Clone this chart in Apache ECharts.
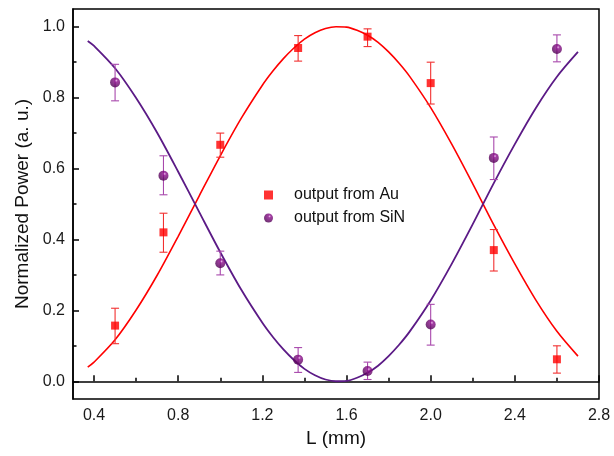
<!DOCTYPE html>
<html>
<head>
<meta charset="utf-8">
<script src="https://cdn.jsdelivr.net/npm/echarts@6/dist/echarts.min.js"></script>
<style>
html,body{margin:0;padding:0;background:#fff;}
#chart{width:614px;height:456px;}
</style>
</head>
<body>
<div id="chart"></div>
<script>
// ---- data ----
const xPts    = [0.5, 0.73, 1.0, 1.37, 1.7, 2.0, 2.3, 2.6];
const auVals  = [0.157, 0.420, 0.667, 0.940, 0.972, 0.841, 0.370, 0.062];
const auLow   = [0.106, 0.364, 0.632, 0.903, 0.944, 0.782, 0.311, 0.023];
const auHigh  = [0.206, 0.474, 0.700, 0.975, 0.994, 0.900, 0.428, 0.100];
const sinVals = [0.843, 0.580, 0.333, 0.061, 0.029, 0.160, 0.630, 0.937];
const sinLow  = [0.791, 0.526, 0.300, 0.025, 0.005, 0.102, 0.569, 0.901];
const sinHigh = [0.894, 0.636, 0.367, 0.095, 0.054, 0.217, 0.689, 0.977];

// fitted curves
const fitL   = [0.37, 0.4, 0.5, 0.6, 0.7, 0.8, 0.9, 1.0, 1.1, 1.2, 1.25, 1.3, 1.35, 1.4, 1.45, 1.5, 1.55, 1.6, 1.65, 1.7, 1.75, 1.8, 1.85, 1.9, 2.0, 2.1, 2.2, 2.3, 2.4, 2.5, 2.6, 2.7];
const auFit  = [0.040, 0.054, 0.117, 0.201, 0.299, 0.409, 0.523, 0.636, 0.742, 0.835, 0.875, 0.910, 0.940, 0.965, 0.983, 0.995, 1.000, 0.999, 0.990, 0.976, 0.956, 0.929, 0.897, 0.860, 0.772, 0.669, 0.557, 0.441, 0.331, 0.229, 0.141, 0.071];
const sinFit = [0.960, 0.946, 0.883, 0.799, 0.701, 0.591, 0.477, 0.364, 0.258, 0.165, 0.125, 0.090, 0.060, 0.035, 0.017, 0.005, 0.000, 0.001, 0.010, 0.024, 0.044, 0.071, 0.103, 0.140, 0.228, 0.331, 0.443, 0.559, 0.669, 0.771, 0.859, 0.929];

const xMajor = [0.4, 0.8, 1.2, 1.6, 2.0, 2.4, 2.8];
const xMinor = [0.6, 1.0, 1.4, 1.8, 2.2, 2.6];
const yMajor = [0.0, 0.2, 0.4, 0.6, 0.8, 1.0];
const yMinor = [0.1, 0.3, 0.5, 0.7, 0.9];

const seriesNames = ['output from Au', 'output from SiN'];
const xTitle = 'L (mm)';
const yTitle = 'Normalized Power (a. u.)';

const FONT = 'Liberation Sans, Arial, Helvetica, sans-serif';
const RED = '#ff0000';
const PURPLE_LINE = '#5b1a86';

function errSeries(lo, hi, color) {
  return {
    type: 'custom',
    silent: true,
    z: 3,
    data: xPts.map((x, i) => [x, lo[i], hi[i]]),
    encode: { x: 0, y: [1, 2] },
    renderItem: function (params, api) {
      const x = api.value(0);
      const p1 = api.coord([x, api.value(1)]);
      const p2 = api.coord([x, api.value(2)]);
      const w = 4;
      const st = { stroke: color, lineWidth: 1.1 };
      return {
        type: 'group',
        children: [
          { type: 'line', shape: { x1: p1[0], y1: p1[1], x2: p2[0], y2: p2[1] }, style: st },
          { type: 'line', shape: { x1: p1[0] - w, y1: p1[1], x2: p1[0] + w, y2: p1[1] }, style: st },
          { type: 'line', shape: { x1: p2[0] - w, y1: p2[1], x2: p2[0] + w, y2: p2[1] }, style: st }
        ]
      };
    }
  };
}

const sphere = {
  type: 'radial', x: 0.62, y: 0.32, r: 0.7,
  colorStops: [
    { offset: 0, color: '#e6a6e6' },
    { offset: 0.22, color: '#8c0e8c' },
    { offset: 1, color: '#4c0050' }
  ]
};

const axisLineStyle = { color: '#000', width: 1.5 };

const option = {
  animation: false,
  backgroundColor: '#fff',
  grid: {
    left: 73, right: 15, top: 9, bottom: 57,
    show: true, borderColor: '#000', borderWidth: 1.5,
    backgroundColor: 'transparent',
    containLabel: false, outerBoundsMode: 'none'
  },
  legend: {
    orient: 'vertical',
    left: 259, top: 182,
    itemWidth: 9, itemHeight: 9, itemGap: 7,
    data: [
      { name: seriesNames[0], icon: 'rect' },
      { name: seriesNames[1], icon: 'circle' }
    ],
    textStyle: { fontFamily: FONT, fontSize: 16, color: '#111', lineHeight: 16, padding: [0, 0, 0, 16] }
  },
  xAxis: [
    {
      type: 'value', min: 0.3, max: 2.8,
      name: xTitle, nameLocation: 'middle', nameGap: 28,
      nameTextStyle: { fontFamily: FONT, fontSize: 19, color: '#111' },
      axisLine: { show: true, lineStyle: axisLineStyle },
      axisTick: { show: true, inside: true, length: 6, customValues: xMajor, lineStyle: { color: '#000', width: 1.5 } },
      axisLabel: { show: true, customValues: xMajor, margin: 9, fontFamily: FONT, fontSize: 16, color: '#1a1a1a',
        formatter: v => v.toFixed(1) },
      splitLine: { show: false }
    },
    {
      type: 'value', min: 0.3, max: 2.8, position: 'bottom',
      axisLine: { show: false },
      axisTick: { show: true, inside: true, length: 3.5, customValues: xMinor, lineStyle: { color: '#000', width: 1.5 } },
      axisLabel: { show: false },
      splitLine: { show: false }
    }
  ],
  yAxis: [
    {
      type: 'value', min: -0.05, max: 1.05,
      name: yTitle, nameLocation: 'middle', nameGap: 41,
      nameTextStyle: { fontFamily: FONT, fontSize: 19, color: '#111' },
      axisLine: { show: true, lineStyle: axisLineStyle },
      axisTick: { show: true, inside: true, length: 6, customValues: yMajor, lineStyle: { color: '#000', width: 1.5 } },
      axisLabel: { show: true, customValues: yMajor, margin: 8, fontFamily: FONT, fontSize: 16, color: '#1a1a1a',
        formatter: v => v.toFixed(1) },
      splitLine: { show: false }
    },
    {
      type: 'value', min: -0.05, max: 1.05, position: 'left',
      axisLine: { show: false },
      axisTick: { show: true, inside: true, length: 3.5, customValues: yMinor, lineStyle: { color: '#000', width: 1.5 } },
      axisLabel: { show: false },
      splitLine: { show: false }
    }
  ],
  series: [
    {
      type: 'line', name: 'fitAu', data: fitL.map((x, i) => [x, auFit[i]]),
      smooth: 0.3, symbol: 'none', z: 2,
      lineStyle: { color: RED, width: 1.6 }
    },
    {
      type: 'line', name: 'fitSiN', data: fitL.map((x, i) => [x, sinFit[i]]),
      smooth: 0.3, symbol: 'none', z: 2,
      lineStyle: { color: PURPLE_LINE, width: 1.8 }
    },
    errSeries(auLow, auHigh, '#f23030'),
    errSeries(sinLow, sinHigh, '#a848ac'),
    {
      type: 'scatter', name: seriesNames[0], data: xPts.map((x, i) => [x, auVals[i]]),
      symbol: 'rect', symbolSize: 8, z: 5,
      itemStyle: { color: RED }
    },
    {
      type: 'scatter', name: seriesNames[1], data: xPts.map((x, i) => [x, sinVals[i]]),
      symbol: 'circle', symbolSize: 10, z: 5,
      itemStyle: { color: sphere }
    }
  ]
};

const chart = echarts.init(document.getElementById('chart'), null, { renderer: 'canvas' });
chart.setOption(option);
</script>
</body>
</html>
